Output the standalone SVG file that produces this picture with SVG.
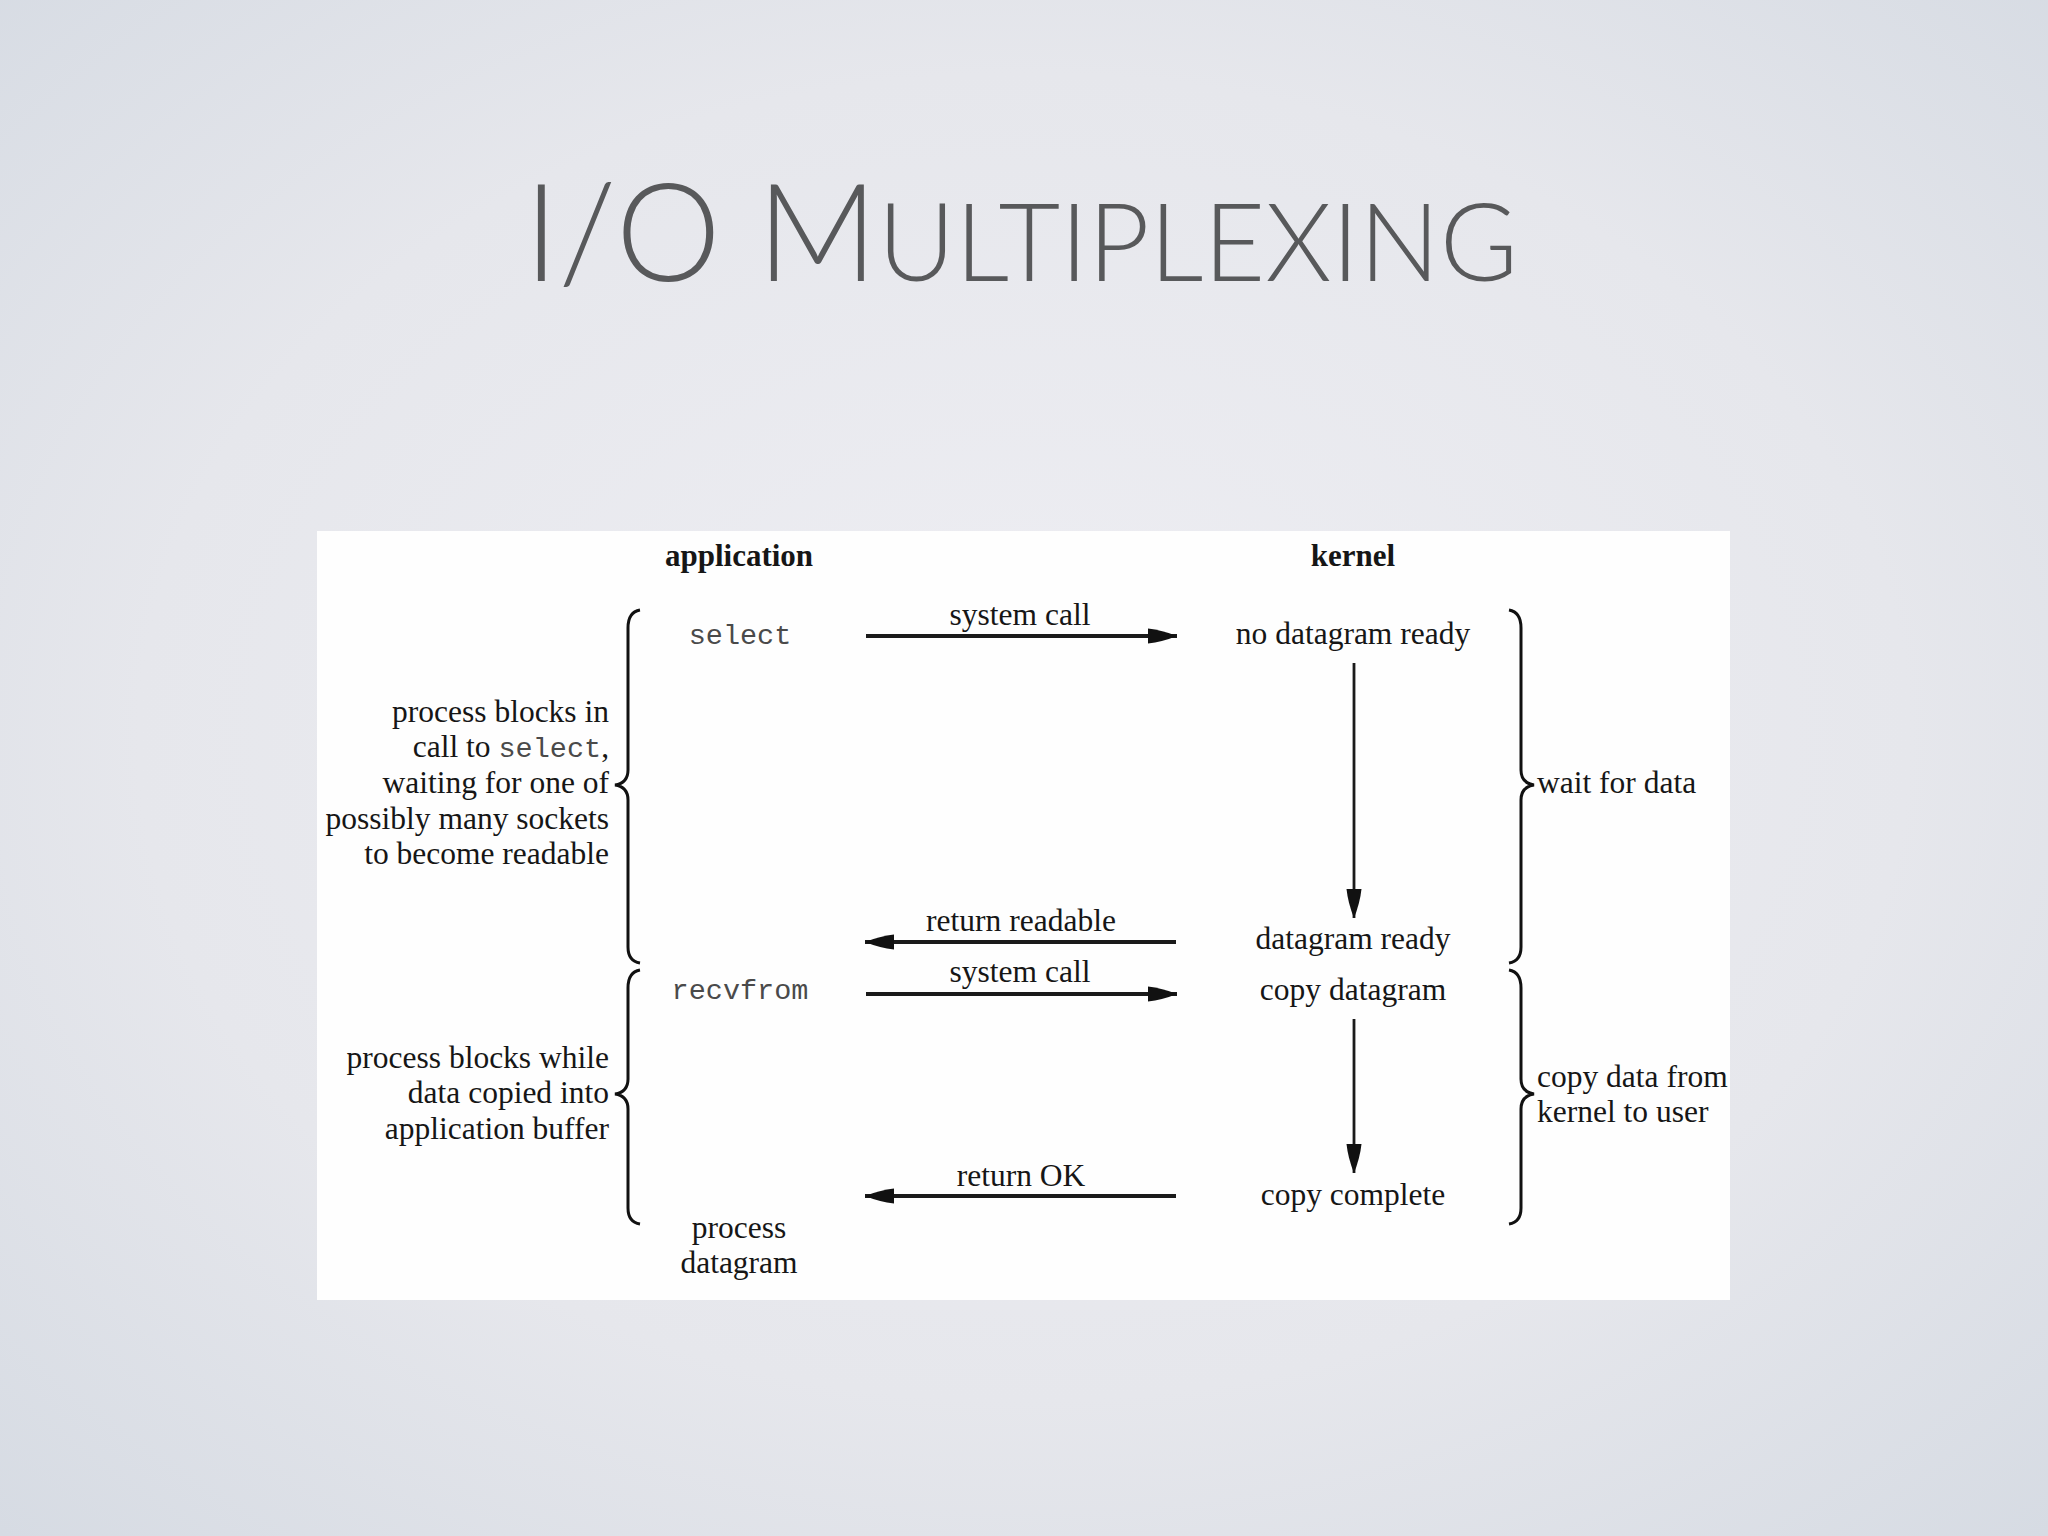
<svg xmlns="http://www.w3.org/2000/svg" width="2048" height="1536" viewBox="0 0 2048 1536">
<defs>
<radialGradient id="bg" cx="50%" cy="48%" r="72%">
<stop offset="0" stop-color="#eeeef3"/>
<stop offset="0.6" stop-color="#e6e7ec"/>
<stop offset="1" stop-color="#d6dbe3"/>
</radialGradient>
<marker id="ah" markerWidth="30" markerHeight="18" refX="29" refY="9" orient="auto" markerUnits="userSpaceOnUse">
<path d="M0,1.5 Q14,3 29,9 Q14,15 0,16.5 Z" fill="#111"/>
</marker>
<marker id="av" markerWidth="30" markerHeight="18" refX="29" refY="9" orient="auto" markerUnits="userSpaceOnUse">
<path d="M0,1.5 Q14,3 29,9 Q14,15 0,16.5 Z" fill="#111"/>
</marker>
<style>
.t{font-family:"Liberation Serif","DejaVu Serif",serif;font-size:31.5px;fill:#161616}
.b{font-weight:bold;font-size:31px}
.m{font-family:"Liberation Mono","DejaVu Sans Mono",monospace;font-size:28.5px;fill:#4a4a4a}
.c{text-anchor:middle}
.r{text-anchor:end}
.h{stroke:#1a1a1a;stroke-width:4;fill:none;marker-end:url(#ah)}
.v{stroke:#1a1a1a;stroke-width:2.8;fill:none;marker-end:url(#av)}
.br{stroke:#111;stroke-width:3;fill:none}
.title{font-family:"Lato","Open Sans",sans-serif;font-weight:300;fill:#58595b}
</style>
</defs>
<rect width="2048" height="1536" fill="url(#bg)"/>
<text class="title" x="524" y="281" font-size="136" textLength="994" lengthAdjust="spacingAndGlyphs">I/O M<tspan font-size="109">ULTIPLEXING</tspan></text>
<rect x="317" y="531" width="1413" height="769" fill="#fefefe"/>

<g id="connectors">
<path id="e1" class="h" d="M866,636 L1177,636"/>
<path id="e2" class="v" d="M1354,663 L1354,918"/>
<path id="e3" class="h" d="M1176,942 L865,942"/>
<path id="e4" class="h" d="M866,994 L1177,994"/>
<path id="e5" class="v" d="M1354,1019 L1354,1173"/>
<path id="e6" class="h" d="M1176,1196 L865,1196"/>
</g>

<g id="braces">
<path id="brace-l1" class="br" d="M640,610 Q628,612 628,628 L628,770 Q628,783 615,785 Q628,787 628,800 L628,947 Q628,961 640,963"/>
<path id="brace-l2" class="br" d="M640,970 Q628,972 628,988 L628,1079 Q628,1092 615,1094 Q628,1096 628,1109 L628,1208 Q628,1222 640,1224"/>
<path id="brace-r1" class="br" d="M1509,610 Q1521,612 1521,628 L1521,770 Q1521,783 1534,785 Q1521,787 1521,800 L1521,947 Q1521,961 1509,963"/>
<path id="brace-r2" class="br" d="M1509,970 Q1521,972 1521,988 L1521,1079 Q1521,1092 1534,1094 Q1521,1096 1521,1109 L1521,1208 Q1521,1222 1509,1224"/>
</g>

<g id="labels">
<text class="t c" x="1020" y="625">system call</text>
<text class="t c" x="1021" y="931">return readable</text>
<text class="t c" x="1020" y="982">system call</text>
<text class="t c" x="1021" y="1186">return OK</text>
</g>

<g id="header-application"><text class="t b c" x="739" y="566">application</text></g>
<g id="header-kernel"><text class="t b c" x="1353" y="566">kernel</text></g>

<g id="n-select"><text class="m c" x="740" y="644">select</text></g>
<g id="n-recvfrom"><text class="m c" x="740" y="999">recvfrom</text></g>
<g id="n-process"><text class="t c" x="739" y="1238">process</text><text class="t c" x="739" y="1273">datagram</text></g>

<g id="n-nodgram"><text class="t c" x="1353" y="644">no datagram ready</text></g>
<g id="n-dgramready"><text class="t c" x="1353" y="949">datagram ready</text></g>
<g id="n-copydgram"><text class="t c" x="1353" y="1000">copy datagram</text></g>
<g id="n-copycomplete"><text class="t c" x="1353" y="1205">copy complete</text></g>

<g id="note-left1">
<text class="t r" x="609" y="722">process blocks in</text>
<text class="t r" x="609" y="757">call to <tspan class="m">select</tspan>,</text>
<text class="t r" x="609" y="793">waiting for one of</text>
<text class="t r" x="609" y="829">possibly many sockets</text>
<text class="t r" x="609" y="864">to become readable</text>
</g>
<g id="note-left2">
<text class="t r" x="609" y="1068">process blocks while</text>
<text class="t r" x="609" y="1103">data copied into</text>
<text class="t r" x="609" y="1139">application buffer</text>
</g>
<g id="note-right1"><text class="t" x="1537" y="793">wait for data</text></g>
<g id="note-right2">
<text class="t" x="1537" y="1087">copy data from</text>
<text class="t" x="1537" y="1122">kernel to user</text>
</g>
</svg>
